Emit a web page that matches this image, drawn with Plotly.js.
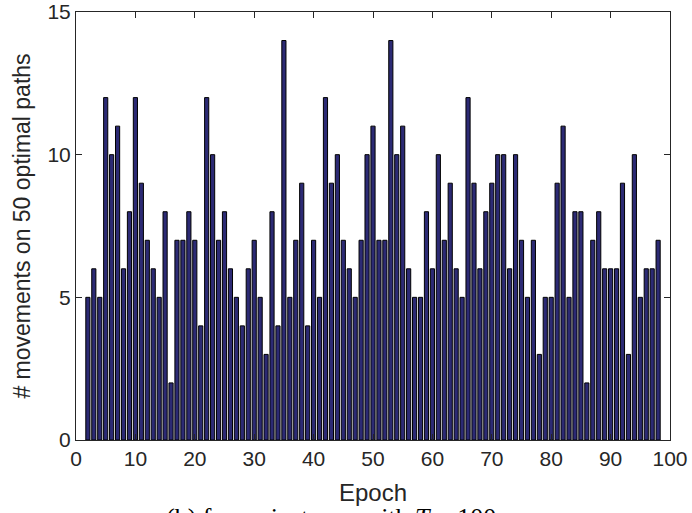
<!DOCTYPE html>
<html>
<head>
<meta charset="utf-8">
<script src="https://cdn.plot.ly/plotly-3.0.1.min.js"></script>
<style>html,body{margin:0;padding:0;background:#fff;}#chart{width:692px;height:513px;}</style>
</head>
<body>
<div id="chart"></div>
<script>
const epochs = [2,3,4,5,6,7,8,9,10,11,12,13,14,15,16,17,18,19,20,21,22,23,24,25,26,27,28,29,30,31,32,33,34,35,36,37,38,39,40,41,42,43,44,45,46,47,48,49,50,51,52,53,54,55,56,57,58,59,60,61,62,63,64,65,66,67,68,69,70,71,72,73,74,75,76,77,78,79,80,81,82,83,84,85,86,87,88,89,90,91,92,93,94,95,96,97,98];
const movements = [5,6,5,12,10,11,6,8,12,9,7,6,5,8,2,7,7,8,7,4,12,10,7,8,6,5,4,6,7,5,3,8,4,14,5,7,9,4,7,5,12,9,10,7,6,5,7,10,11,7,7,14,10,11,6,5,5,8,6,10,7,9,6,5,12,9,6,8,9,10,10,6,10,7,5,7,3,5,5,9,11,5,8,8,2,7,8,6,6,6,9,3,10,5,6,6,7];
const xTicks = [0,10,20,30,40,50,60,70,80,90,100];
const yTicks = [0,5,10,15];

const axisColor = '#262626';
const font = {family: '"Liberation Sans", Arial, sans-serif', size: 21, color: '#262626'};

Plotly.newPlot('chart', [{
  type: 'bar',
  x: epochs,
  y: movements,
  width: 0.7,
  marker: {color: '#2c2a74', line: {color: '#000000', width: 1}},
  hoverinfo: 'x+y'
}], {
  width: 692, height: 513,
  margin: {l: 76, r: 22, t: 12, b: 73},
  paper_bgcolor: '#ffffff', plot_bgcolor: '#ffffff',
  font: font,
  showlegend: false,
  xaxis: {
    range: [0, 100], tickvals: xTicks, ticktext: xTicks.map(String),
    ticks: 'inside', ticklen: 6, tickcolor: axisColor,
    showline: true, linecolor: axisColor, linewidth: 1, mirror: 'ticks',
    showgrid: false, zeroline: false,
    tickfont: font,
    title: {text: 'Epoch', font: {family: font.family, size: 24, color: '#262626'}, standoff: 14}
  },
  yaxis: {
    range: [0, 15], tickvals: yTicks, ticktext: yTicks.map(String),
    ticks: 'inside', ticklen: 6, tickcolor: axisColor,
    showline: true, linecolor: axisColor, linewidth: 1, mirror: 'ticks',
    showgrid: false, zeroline: false,
    tickfont: font,
    title: {text: '# movements on 50 optimal paths', font: {family: font.family, size: 23, color: '#262626'}, standoff: 10}
  },
  annotations: [{
    xref: 'paper', yref: 'paper', x: 0.43, y: -0.182,
    xanchor: 'center', yanchor: 'middle', showarrow: false,
    text: '(b) for an instance with <i>T</i> = 100',
    font: {family: '"Liberation Serif", "Times New Roman", serif', size: 26, color: '#000'}
  }]
}, {displayModeBar: false, staticPlot: true});
</script>
</body>
</html>
